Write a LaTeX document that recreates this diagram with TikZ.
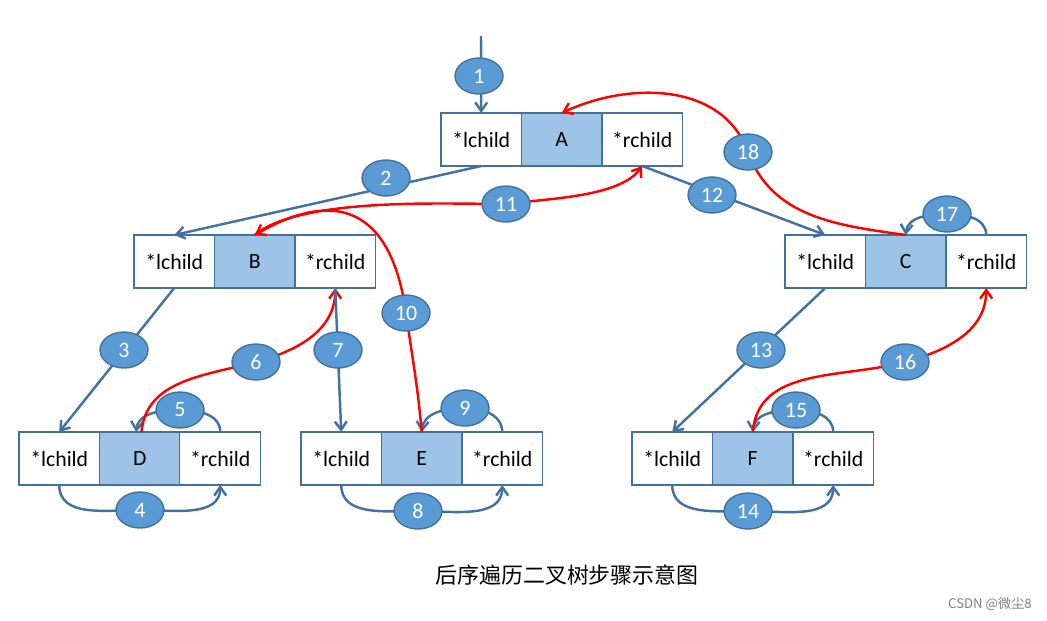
\documentclass[tikz,border=0pt]{standalone}
\usepackage{fontspec}
\setmainfont{Carlito}
\newfontfamily\cjk{Noto Sans CJK SC}
\usetikzlibrary{positioning,shapes.geometric,arrows.meta}
\definecolor{boxline}{RGB}{65,113,156}
\definecolor{datafill}{RGB}{157,195,230}
\definecolor{tagfill}{RGB}{91,155,213}
\definecolor{edgeblue}{RGB}{68,114,160}

\tikzset{
  cell/.style={draw=boxline, line width=0.6pt, minimum width=1.61cm, minimum height=1.06cm,
    inner sep=0pt, outer sep=0pt, font=\fontsize{12.4}{14}\selectfont},
  datacell/.style={cell, fill=datafill},
  tag/.style={ellipse, draw=boxline, fill=tagfill, line width=0.8pt, minimum width=0.96cm,
    minimum height=0.72cm, inner sep=0pt, text=white, font=\fontsize{12.5}{14}\selectfont},
  blueline/.style={draw=edgeblue, line width=1.4pt, -{Straight Barb[length=1.7mm,width=2.4mm]}},
  redline/.style={draw=red, line width=1.4pt, -{Straight Barb[length=1.7mm,width=2.4mm]}},
}

\begin{document}
\begin{tikzpicture}[x=0.02cm,y=-0.02cm]
\useasboundingbox (0,0) rectangle (1047,620);

\foreach \nm/\x/\y in {A/441/113,B/134/235,C/785/235,D/19/432,E/301/432,F/632/432}{
  \node[cell, anchor=north west] (\nm-l) at (\x,\y) {*lchild};
  \node[datacell, right=0pt of \nm-l] (\nm-d) {\nm};
  \node[cell, right=0pt of \nm-d] (\nm-r) {*rchild};
}

\coordinate (root) at (481,36);
\foreach \i/\x/\y in {1/479/76,2/386/178,3/124/350,4/140/510,5/180/410,6/256/362,
  7/338/350,8/418/511,9/465/408,10/406/313,11/506/204,12/712/195,13/761/350,
  14/748/511,15/796/410,16/905/362,17/947/214,18/748/152}
  \coordinate (c\i) at (\x,\y);

% left subtree
\draw[blueline] (root) -- (A-l.north);
\draw[blueline] (A-l.south) -- (B-l.north);
\draw[blueline] (B-l.south) -- (D-l.north);
\draw[blueline] (D-l.south) to[out=-90,in=180] (c4) to[out=0,in=-90] (D-r.south);
\draw[blueline] (D-r.north) to[out=90,in=0] (c5) to[out=180,in=85] ([xshift=-2pt]D-d.north);
\draw[redline] ([xshift=1pt]D-d.north) to[out=85,in=195] (c6) to[out=15,in=-90] (B-r.south);
\draw[blueline] (B-r.south) -- (E-l.north);
\draw[blueline] (E-l.south) to[out=-90,in=180] (c8) to[out=0,in=-90] (E-r.south);
\draw[blueline] (E-r.north) to[out=90,in=0] (c9) to[out=180,in=85] (E-d.north);
\draw[redline] (E-d.north) to[out=95,in=-82] (c10) to[out=98,in=30,looseness=1.5] (B-d.north);
\draw[redline] (B-d.north) to[out=40,in=180,looseness=0.6] (c11) to[out=8,in=-125,looseness=0.7] (A-r.south);

% right subtree
\draw[blueline] (A-r.south) -- (C-l.north);
\draw[blueline] (C-l.south) -- (F-l.north);
\draw[blueline] (F-l.south) to[out=-90,in=180] (c14) to[out=0,in=-90] (F-r.south);
\draw[blueline] (F-r.north) to[out=90,in=0] (c15) to[out=180,in=85] (F-d.north);
\draw[redline] (F-d.north) to[out=85,in=195] (c16) to[out=15,in=-90] (C-r.south);
\draw[blueline] (C-r.north) to[out=90,in=0] (c17) to[out=180,in=85] (C-d.north);
\draw[redline] (C-d.north) to[out=172,in=-70] (c18) to[out=110,in=25] (A-d.north);

\foreach \i in {1,...,18}
  \node[tag] (n\i) at (c\i) {\i};

\node[font=\cjk\fontsize{12.5}{15}\selectfont] (caption) at (567,575) {后序遍历二叉树步骤示意图};
\node[font=\cjk\fontsize{7.5}{9}\selectfont, text=gray] (mark) at (990,604) {CSDN @微尘8};
\end{tikzpicture}
\end{document}
